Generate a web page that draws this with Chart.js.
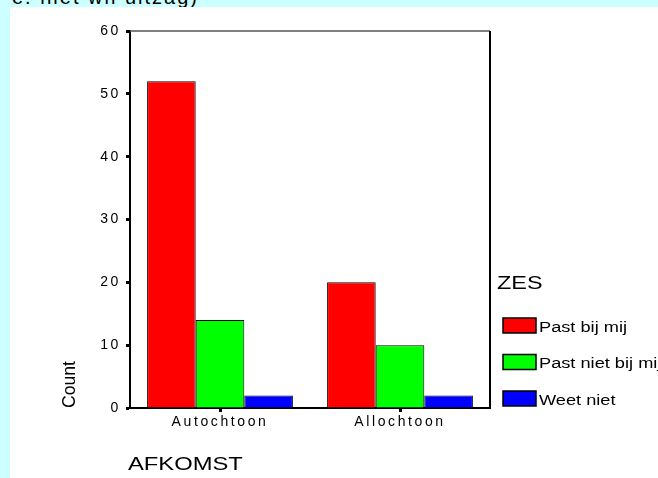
<!DOCTYPE html>
<html>
<head>
<meta charset="utf-8">
<script src="https://cdn.jsdelivr.net/npm/chart.js@4/dist/chart.umd.min.js"></script>
<style>
  html, body { margin: 0; padding: 0; }
  body { width: 658px; height: 478px; background: #ccffff; position: relative; overflow: hidden; }
  #kop { position: absolute; left: 12px; top: -13px; font: 20px "Liberation Sans", Arial, sans-serif; line-height: 20px; letter-spacing: 2px; color: #000; white-space: nowrap; }
  #panel { position: absolute; left: 10px; top: 7px; width: 648px; height: 471px; background: #fff; }
</style>
</head>
<body>
<div id="kop">e. niet wil uitzag)</div>
<div id="panel"><canvas id="myChart" width="648" height="471"></canvas></div>
<script>
  var categorieen = ['Autochtoon', 'Allochtoon']
  var pastBijMij = [52, 20]
  var pastNietBijMij = [14, 10]
  var weetNiet = [2, 2]
  var yTicks = [0, 10, 20, 30, 40, 50, 60]

  var FONT = '"Liberation Sans", Arial, sans-serif'

  // tekst horizontaal uitgerekt, zoals in de SPSS-export
  function breedTekst(ctx, tekst, x, y, rek) {
    ctx.save()
    ctx.translate(x, y)
    ctx.scale(rek, 1)
    ctx.fillText(tekst, 0, 0)
    ctx.restore()
  }

  // SPSS-achtige extra's: kader, astitels en legenda
  var spssPlugin = {
    id: 'spss',
    beforeLayout: function (chart) { chart.ctx.letterSpacing = '2.6px' },
    beforeDraw: function (chart) { chart.ctx.letterSpacing = '2.6px' },
    afterDraw: function (chart) {
      var ctx = chart.ctx
      var a = chart.chartArea
      ctx.save()
      // bovenrand en rechterrand
      ctx.strokeStyle = '#555'
      ctx.lineWidth = 1.5
      ctx.beginPath(); ctx.moveTo(a.left, a.top); ctx.lineTo(a.right, a.top); ctx.stroke()
      ctx.strokeStyle = '#000'
      ctx.lineWidth = 2
      ctx.beginPath(); ctx.moveTo(a.right, a.top); ctx.lineTo(a.right, a.bottom); ctx.stroke()

      ctx.fillStyle = '#000'
      ctx.letterSpacing = '0px'
      // y-as titel
      ctx.save()
      ctx.font = '16px ' + FONT
      ctx.translate(60, a.bottom)
      ctx.rotate(-Math.PI / 2)
      ctx.scale(1.1, 1.2)
      ctx.textAlign = 'left'
      ctx.textBaseline = 'middle'
      ctx.fillText('Count', 0, 0)
      ctx.restore()

      // x-as titel
      ctx.font = '18px ' + FONT
      ctx.textAlign = 'left'
      ctx.textBaseline = 'middle'
      breedTekst(ctx, 'AFKOMST', 118, 458, 1.32)

      // legenda
      breedTekst(ctx, 'ZES', 487, 277.5, 1.3)
      ctx.font = '14px ' + FONT
      chart.data.datasets.forEach(function (ds, i) {
        var cy = 318.5 + i * 36.5
        ctx.fillStyle = ds.backgroundColor
        ctx.fillRect(493, cy - 7.5, 33, 15)
        ctx.strokeStyle = '#000'
        ctx.lineWidth = 1.5
        ctx.strokeRect(493, cy - 7.5, 33, 15)
        ctx.fillStyle = '#000'
        breedTekst(ctx, ds.label, 529, cy + 2.5, 1.3)
      })
      ctx.restore()
    }
  }

  var ctx = document.getElementById('myChart')
  new Chart(ctx, {
    type: 'bar',
    data: {
      labels: categorieen,
      datasets: [
        { label: 'Past bij mij', data: pastBijMij, backgroundColor: '#ff0000' },
        { label: 'Past niet bij mij', data: pastNietBijMij, backgroundColor: '#00ff00' },
        { label: 'Weet niet', data: weetNiet, backgroundColor: '#0000ff' }
      ]
    },
    plugins: [spssPlugin],
    options: {
      responsive: false,
      animation: false,
      devicePixelRatio: 1,
      layout: { padding: { left: 0, top: 24, right: 168, bottom: 0 } },
      datasets: {
        bar: { borderColor: '#000', borderWidth: 1, barPercentage: 1, categoryPercentage: 0.81 }
      },
      plugins: {
        legend: { display: false },
        tooltip: { enabled: false }
      },
      scales: {
        x: {
          afterFit: function (s) { s.height = 70 },
          grid: { offset: false, drawOnChartArea: false, tickLength: 4, tickWidth: 3, tickColor: '#000' },
          border: { color: '#000', width: 2 },
          ticks: { color: '#000', padding: 2, font: { family: FONT, size: 14 }, maxRotation: 0 }
        },
        y: {
          min: 0,
          max: 60,
          afterFit: function (s) { s.width = 120 },
          afterBuildTicks: function (s) { s.ticks = yTicks.map(function (v) { return { value: v } }) },
          grid: { drawOnChartArea: false, tickLength: 4, tickWidth: 3, tickColor: '#000' },
          border: { color: '#000', width: 2 },
          ticks: { color: '#000', padding: 5, font: { family: FONT, size: 14 } }
        }
      }
    }
  })
</script>
</body>
</html>
